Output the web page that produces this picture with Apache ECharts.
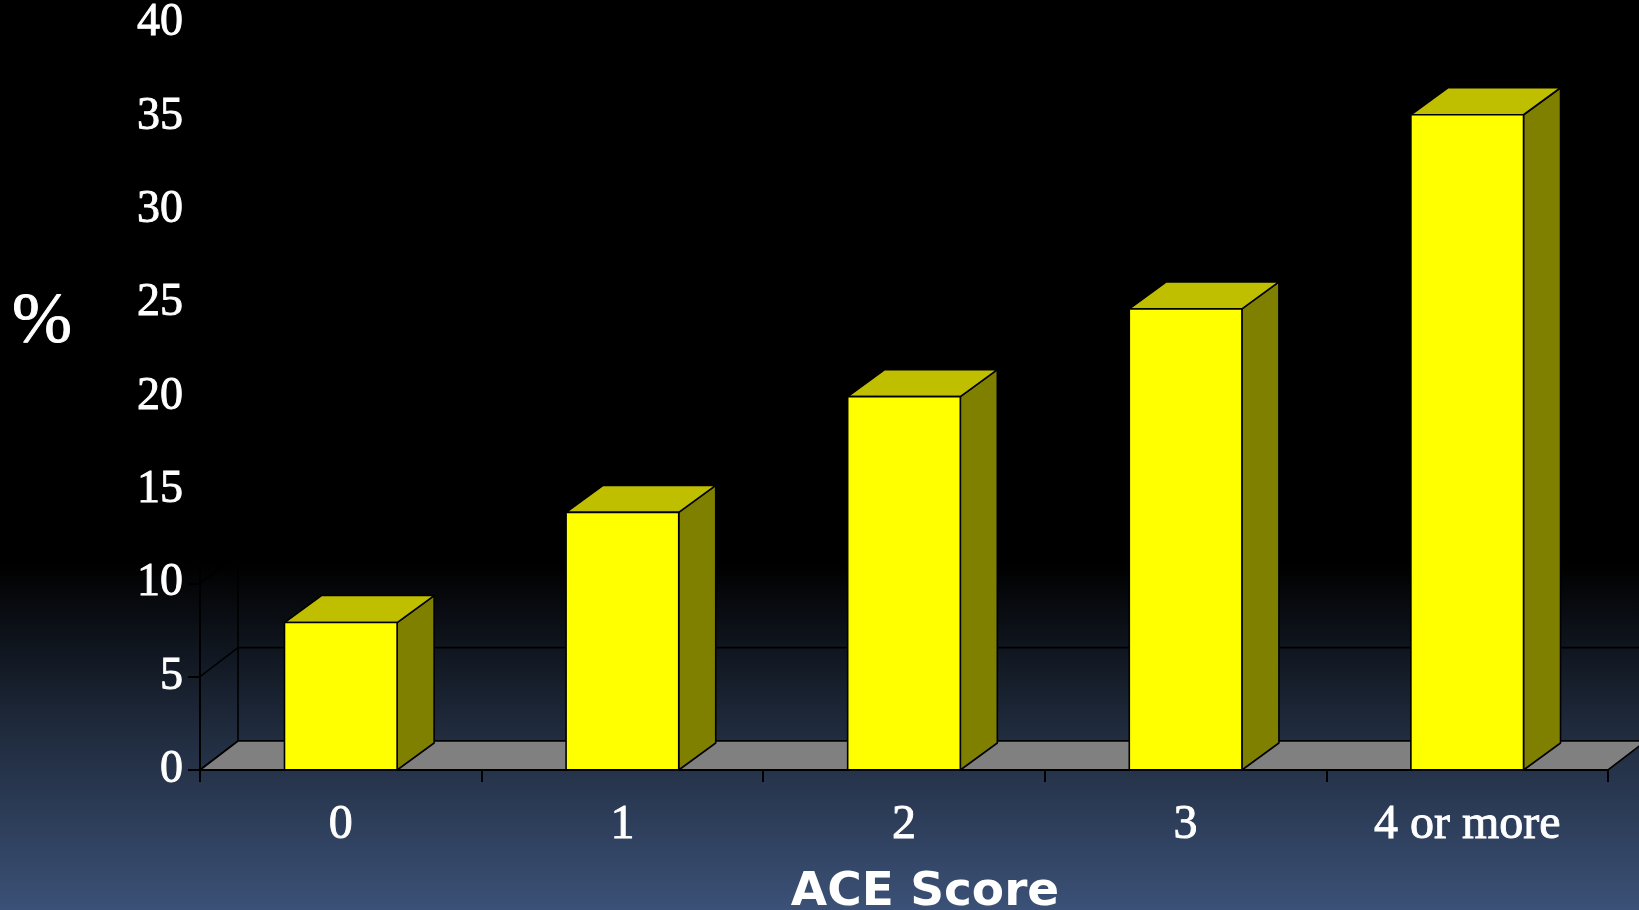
<!DOCTYPE html>
<html>
<head>
<meta charset="utf-8">
<title>ACE Score</title>
<script src="https://cdn.jsdelivr.net/npm/echarts@6/dist/echarts.min.js"></script>
<style>
  html, body { margin: 0; padding: 0; background: #000; }
  #chart { width: 1639px; height: 910px; }
</style>
</head>
<body>
<div id="chart"></div>
<script>
// Percentage by ACE score
const categories = ['0', '1', '2', '3', '4 or more'];
const percentValues = [7.9, 13.8, 20.0, 24.7, 35.1];
const yTicks = [0, 5, 10, 15, 20, 25, 30, 35, 40];

// Pseudo-3D depth offsets (pixels)
const FLOOR_DX = 38, FLOOR_DY = 29;
const BAR_DX = 37, BAR_DY = 27;
const BAR_RATIO = 0.40;

const serif = '"Liberation Serif", "Times New Roman", serif';

const chart = echarts.init(document.getElementById('chart'), null, { renderer: 'canvas' });

// Back wall gridlines, left-wall diagonals and back vertical edge
function renderWalls(params, api) {
  const cs = params.coordSys;
  const x0 = cs.x, x1 = cs.x + cs.width;
  const y = api.coord([0, api.value(0)])[1];
  const children = [];
  const lineStyle = { stroke: '#000', lineWidth: 1.6 };
  children.push({
    type: 'line',
    shape: { x1: x0 + FLOOR_DX, y1: y - FLOOR_DY, x2: x1 + FLOOR_DX, y2: y - FLOOR_DY },
    style: lineStyle
  });
  children.push({
    type: 'line',
    shape: { x1: x0, y1: y, x2: x0 + FLOOR_DX, y2: y - FLOOR_DY },
    style: lineStyle
  });
  if (params.dataIndex === 0) {
    const yTop = api.coord([0, yTicks[yTicks.length - 1]])[1];
    children.push({
      type: 'line',
      shape: { x1: x0 + FLOOR_DX, y1: y - FLOOR_DY, x2: x0 + FLOOR_DX, y2: yTop - FLOOR_DY },
      style: lineStyle
    });
  }
  return { type: 'group', children };
}

// Grey floor plane at value 0
function renderFloor(params, api) {
  const cs = params.coordSys;
  const x0 = cs.x, x1 = cs.x + cs.width;
  const y = api.coord([0, 0])[1];
  return {
    type: 'polygon',
    shape: { points: [[x0, y], [x1, y], [x1 + FLOOR_DX, y - FLOOR_DY], [x0 + FLOOR_DX, y - FLOOR_DY]] },
    style: { fill: '#808080', stroke: '#000', lineWidth: 1.6 }
  };
}

// Box-shaped bar: front face, top face, right side face
function renderBar(params, api) {
  const idx = api.value(0);
  const top = api.coord([idx, api.value(1)]);
  const base = api.coord([idx, 0]);
  const w = api.size([1, 0])[0] * BAR_RATIO;
  const xl = top[0] - w / 2, xr = top[0] + w / 2;
  const yt = top[1], yb = base[1];
  const edge = { stroke: '#000', lineWidth: 1.6, lineJoin: 'round' };
  return {
    type: 'group',
    children: [
      {
        type: 'polygon',
        shape: { points: [[xr, yt], [xr + BAR_DX, yt - BAR_DY], [xr + BAR_DX, yb - BAR_DY], [xr, yb]] },
        style: Object.assign({ fill: '#808000' }, edge)
      },
      {
        type: 'polygon',
        shape: { points: [[xl, yt], [xr, yt], [xr + BAR_DX, yt - BAR_DY], [xl + BAR_DX, yt - BAR_DY]] },
        style: Object.assign({ fill: '#BFBF00' }, edge)
      },
      {
        type: 'rect',
        shape: { x: xl, y: yt, width: w, height: yb - yt },
        style: Object.assign({ fill: '#FFFF00' }, edge)
      }
    ]
  };
}

const option = {
  animation: false,
  backgroundColor: 'transparent',
  grid: {
    left: 200,
    right: 31,
    top: 23.3,
    bottom: 140,
    containLabel: false,
    outerBoundsMode: 'none'
  },
  graphic: [
    {
      type: 'rect',
      z: -100,
      silent: true,
      shape: { x: 0, y: 0, width: 1639, height: 910 },
      style: {
        fill: new echarts.graphic.LinearGradient(0, 0, 0, 1, [
          { offset: 0, color: '#000000' },
          { offset: 0.62, color: '#000000' },
          { offset: 0.8, color: '#1f2a3c' },
          { offset: 1, color: '#3b5177' }
        ])
      }
    },
    {
      type: 'text',
      z: 10,
      x: 42,
      y: 323,
      style: {
        text: '%',
        fill: '#ffffff',
        font: 'normal 72px ' + serif,
        stroke: '#ffffff',
        lineWidth: 0.9,
        align: 'center',
        verticalAlign: 'middle'
      }
    },
    {
      type: 'text',
      z: 10,
      x: 925,
      y: 893,
      style: {
        text: 'ACE Score',
        fill: '#ffffff',
        font: 'bold 47px "DejaVu Sans", Verdana, sans-serif',
        align: 'center',
        verticalAlign: 'middle'
      }
    }
  ],
  xAxis: {
    type: 'category',
    data: categories,
    boundaryGap: true,
    z: 5,
    axisLine: { show: true, lineStyle: { color: '#000', width: 2 } },
    axisTick: { show: true, length: 12, alignWithLabel: false, lineStyle: { color: '#000', width: 2 } },
    axisLabel: {
      color: '#ffffff',
      fontFamily: serif,
      fontSize: 48,
      textBorderColor: '#ffffff',
      textBorderWidth: 0.9,
      margin: 55,
      verticalAlign: 'middle',
      interval: 0
    },
    splitLine: { show: false }
  },
  yAxis: {
    type: 'value',
    min: 0,
    max: 40,
    interval: 5,
    z: 5,
    axisLine: { show: true, lineStyle: { color: '#000', width: 2 } },
    axisTick: { show: true, length: 12, lineStyle: { color: '#000', width: 2 } },
    axisLabel: {
      color: '#ffffff',
      fontFamily: serif,
      fontSize: 46,
      textBorderColor: '#ffffff',
      textBorderWidth: 0.9,
      margin: 17,
      verticalAlign: 'middle'
    },
    splitLine: { show: false }
  },
  series: [
    {
      type: 'custom',
      name: 'walls',
      coordinateSystem: 'cartesian2d',
      z: 1,
      silent: true,
      renderItem: renderWalls,
      data: yTicks.map(v => [v]),
      encode: { y: 0 }
    },
    {
      type: 'custom',
      name: 'floor',
      coordinateSystem: 'cartesian2d',
      z: 2,
      silent: true,
      renderItem: renderFloor,
      data: [[0, 0]],
      encode: { x: 0, y: 1 }
    },
    {
      type: 'custom',
      name: '%',
      coordinateSystem: 'cartesian2d',
      z: 3,
      renderItem: renderBar,
      data: percentValues.map((v, i) => [i, v]),
      encode: { x: 0, y: 1 }
    }
  ]
};

chart.setOption(option);
</script>
</body>
</html>
